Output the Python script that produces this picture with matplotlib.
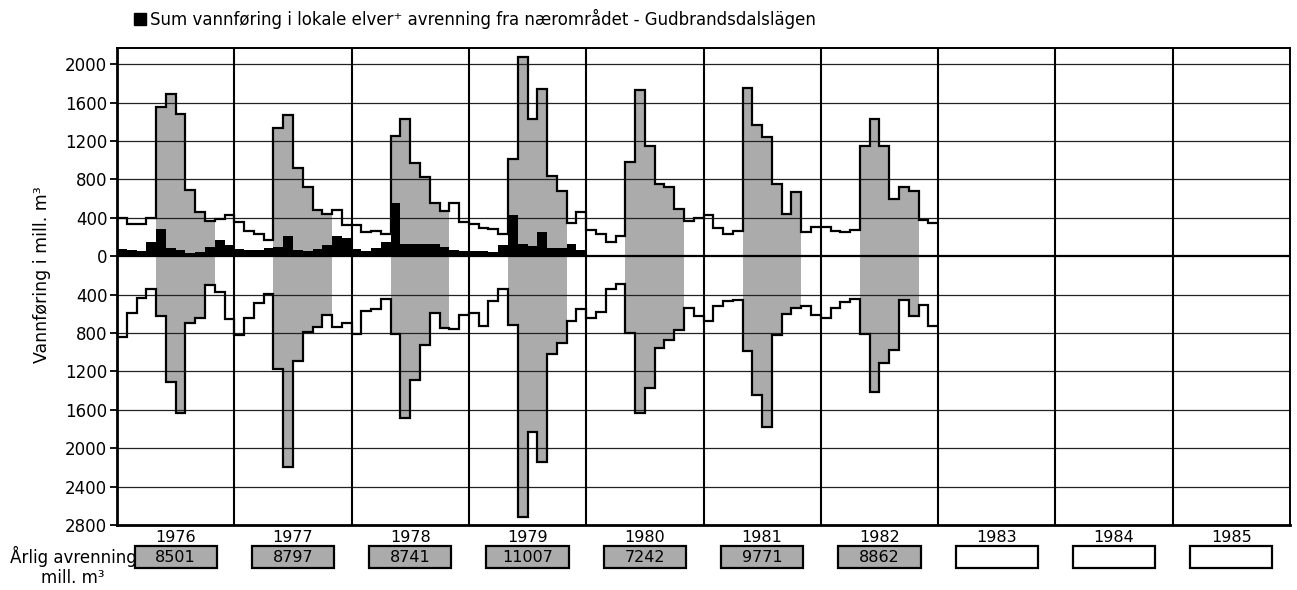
import matplotlib
matplotlib.use('Agg')
import matplotlib.pyplot as plt
import matplotlib.transforms as mtransforms
from matplotlib.patches import Rectangle
import numpy as np

plt.rcParams['font.family'] = ['DejaVu Sans']

# ---------------- data ----------------
years = [1976, 1977, 1978, 1979, 1980, 1981, 1982, 1983, 1984, 1985]
annual_runoff = ['8501', '8797', '8741', '11007', '7242', '9771', '8862', '', '', '']

# monthly flow (mill. m3), upper half of the chart, Jan..Dec per year
upper_flow = [
    [395, 335, 335, 395, 1555, 1690, 1480, 695, 462, 366, 390, 435],   # 1976
    [352, 268, 228, 172, 1335, 1475, 920, 725, 480, 440, 480, 328],    # 1977
    [330, 250, 265, 235, 1248, 1430, 970, 830, 560, 468, 552, 357],    # 1978
    [337, 297, 286, 231, 1015, 2080, 1430, 1742, 841, 683, 342, 460],  # 1979
    [272, 234, 144, 208, 979, 1730, 1152, 754, 725, 494, 364, 398],    # 1980
    [433, 295, 234, 268, 1750, 1369, 1242, 750, 444, 665, 248, 307],   # 1981
    [305, 267, 250, 277, 1151, 1428, 1151, 596, 717, 676, 381, 347],   # 1982
]

# monthly flow (mill. m3), lower half of the chart (drawn downwards)
lower_flow = [
    [840, 588, 432, 336, 623, 1308, 1632, 700, 648, 303, 368, 658],    # 1976
    [825, 640, 490, 390, 1173, 2196, 1092, 790, 735, 616, 738, 700],   # 1977
    [808, 568, 545, 449, 807, 1685, 1284, 922, 588, 748, 761, 614],    # 1978
    [588, 728, 466, 338, 718, 2714, 1835, 2142, 1018, 902, 676, 546],  # 1979
    [640, 584, 337, 289, 800, 1635, 1374, 956, 876, 765, 539, 619],    # 1980
    [679, 522, 470, 452, 991, 1450, 1774, 817, 598, 540, 522, 609],    # 1981
    [643, 540, 478, 445, 805, 1419, 1113, 974, 452, 626, 504, 730],    # 1982
]

# sum of local rivers + runoff from the near area (black)
local_rivers = [
    [72, 65, 60, 145, 287, 85, 65, 38, 45, 100, 168, 116],     # 1976
    [75, 70, 70, 88, 100, 215, 65, 50, 75, 118, 208, 190],     # 1977
    [72, 55, 90, 148, 556, 128, 130, 128, 133, 92, 70, 50],    # 1978
    [55, 50, 45, 120, 435, 125, 110, 250, 85, 85, 128, 70],    # 1979
]

upper_ticks = [2000, 1600, 1200, 800, 400, 0]
lower_ticks = [400, 800, 1200, 1600, 2000, 2400, 2800]

legend_text = 'Sum vannføring i lokale elver\u207a avrenning fra nærområdet - Gudbrandsdalslägen'
ylabel_text = 'Vannføring i mill. m³'

# ---------------- figure ----------------
W, H = 1297, 590
fig = plt.figure(figsize=(W / 100, H / 100), dpi=100)
ax = fig.add_axes([117 / W, 1 - 525 / H, (1290 - 117) / W, (525 - 48) / H])

GRAY = '#ababab'
n_months = 12 * len(years)
ax.set_xlim(0, n_months)
ax.set_ylim(-2800, 2170)

# gray shading May-Oct
for i, (u, l) in enumerate(zip(upper_flow, lower_flow)):
    e = np.arange(i * 12 + 4, i * 12 + 11)
    ax.stairs(np.array(u[4:10]), e, baseline=0, fill=True, color=GRAY, lw=0, zorder=1)
    ax.stairs(-np.array(l[4:10]), e, baseline=0, fill=True, color=GRAY, lw=0, zorder=1)

# grid lines
for v in upper_ticks[:-1]:
    ax.axhline(v, color='#222222', lw=0.9, zorder=1.5)
for v in lower_ticks[:-1]:
    ax.axhline(-v, color='#222222', lw=0.9, zorder=1.5)
ax.axhline(0, color='black', lw=1.6, zorder=2.6)
for k in range(1, len(years)):
    ax.axvline(12 * k, color='black', lw=1.5, zorder=2.5)

# black local series
loc = np.concatenate(local_rivers)
ax.stairs(loc, np.arange(len(loc) + 1), baseline=0, fill=True, color='black', lw=0, zorder=2)

# step lines
up = np.concatenate(upper_flow)
lo = np.concatenate(lower_flow)
ax.stairs(up, np.arange(len(up) + 1), baseline=None, color='black', lw=1.6, zorder=3)
ax.stairs(-lo, np.arange(len(lo) + 1), baseline=None, color='black', lw=1.6, zorder=3)

# axes styling
yt = list(upper_ticks) + [-v for v in lower_ticks]
ax.set_yticks(yt)
ax.set_yticklabels([str(abs(v)) for v in yt], fontsize=12)
ax.set_xticks([])
ax.tick_params(axis='y', direction='out', length=5, width=1.3, pad=2)
for s in ['left', 'bottom']:
    ax.spines[s].set_linewidth(2.0)
for s in ['top', 'right']:
    ax.spines[s].set_linewidth(1.4)

fig.text(42 / W, 1 - 275 / H, ylabel_text, rotation=90, ha='center', va='center', fontsize=12.5)

# year labels and annual runoff boxes
blend = mtransforms.blended_transform_factory(ax.transData, fig.transFigure)
box_w = 8.4
for i, (yr, val) in enumerate(zip(years, annual_runoff)):
    xc = i * 12 + 6
    ax.text(xc, 1 - 537 / H, str(yr), transform=blend, ha='center', va='center',
            fontsize=11.5, clip_on=False)
    rect = Rectangle((xc - box_w / 2, 1 - 568 / H), box_w, 22 / H, transform=blend,
                     facecolor=GRAY if val else 'white', edgecolor='black', lw=1.6,
                     clip_on=False)
    ax.add_patch(rect)
    if val:
        ax.text(xc, 1 - 557 / H, val, transform=blend, ha='center', va='center',
                fontsize=11.5, clip_on=False)

fig.text(137 / W, 1 - 556 / H, 'Årlig avrenning', ha='right', va='center', fontsize=12)
fig.text(73 / W, 1 - 578 / H, 'mill. m³', ha='center', va='center', fontsize=12)

# legend at top
fig.patches.append(Rectangle((134 / W, 1 - 25 / H), 12 / W, 12 / H, transform=fig.transFigure,
                             facecolor='black', edgecolor='black'))
fig.text(150 / W, 1 - 19 / H, legend_text, ha='left', va='center', fontsize=12)

fig.savefig('out.png', dpi=100)
